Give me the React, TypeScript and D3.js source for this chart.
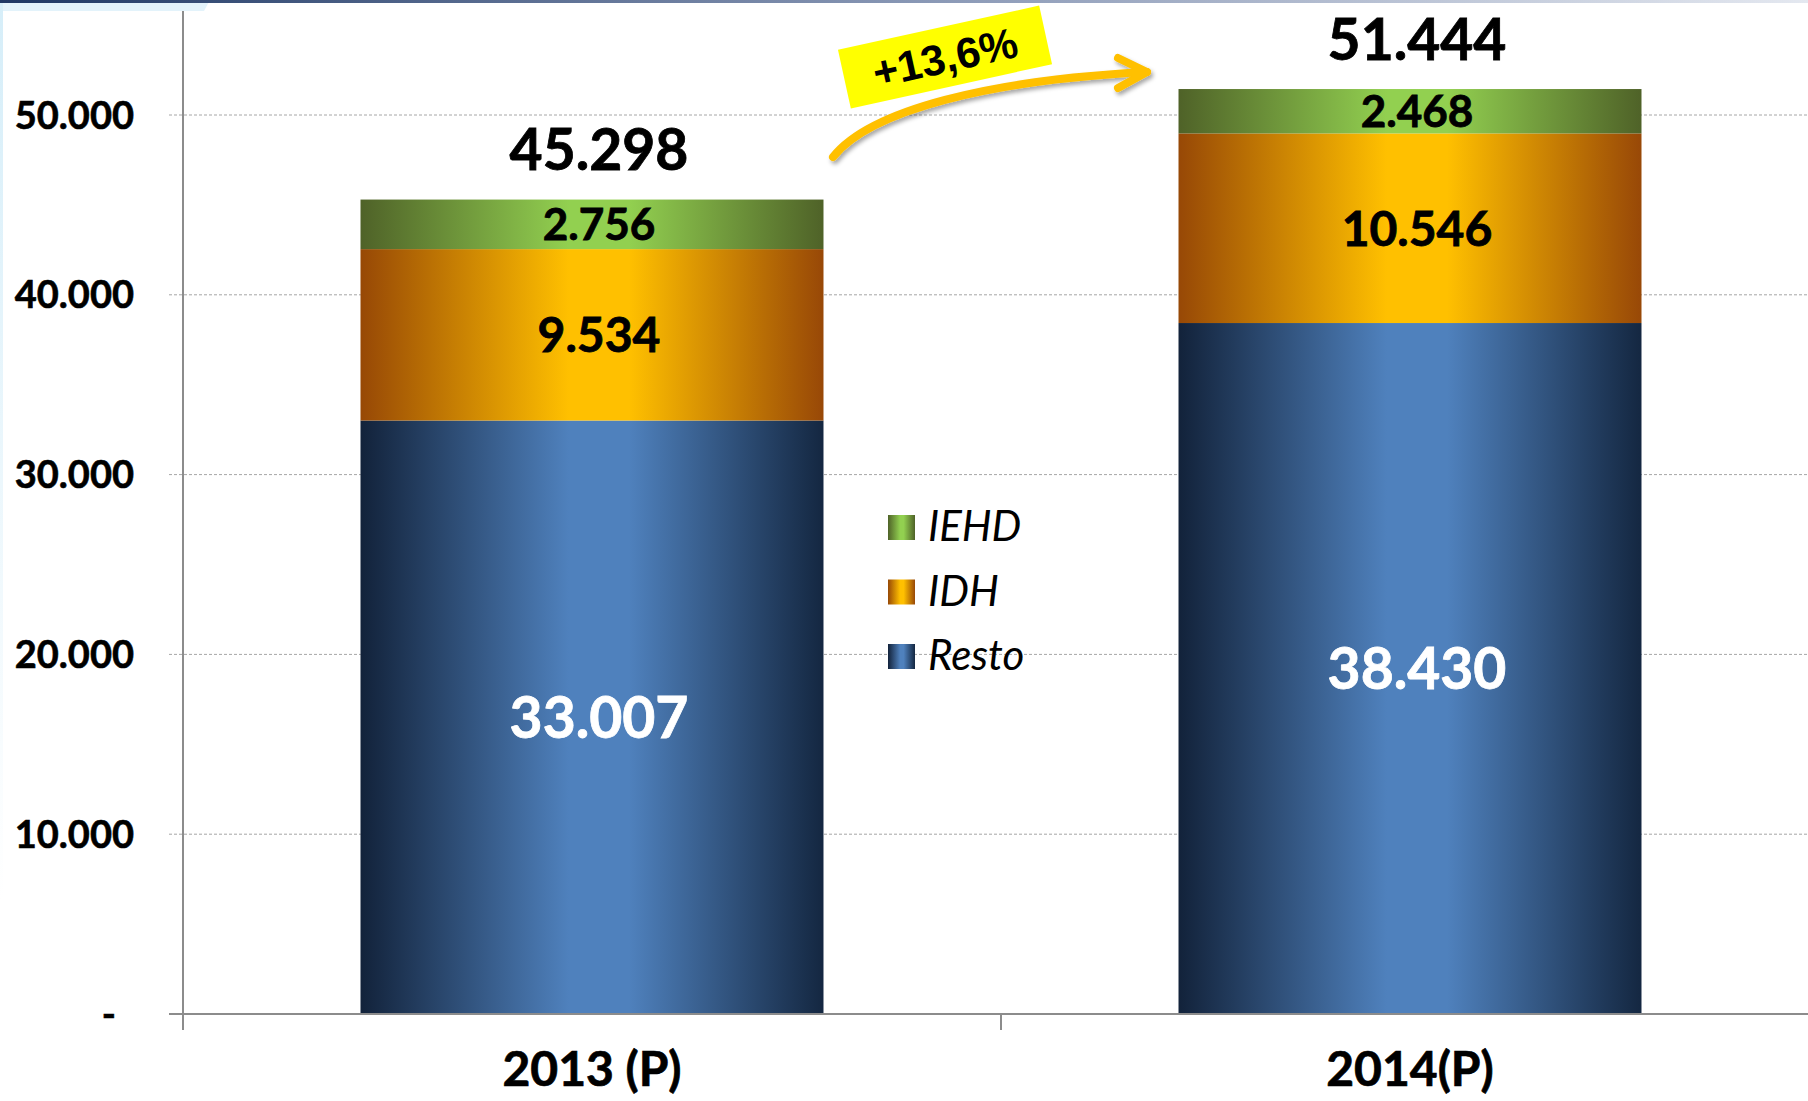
import * as d3 from 'd3';

const years = ['2013 (P)', '2014(P)'];
const resto = [33007, 38430];
const idh = [9534, 10546];
const iehd = [2756, 2468];
const totals = [45298, 51444];
const yTicks = [0, 10000, 20000, 30000, 40000, 50000];
const seriesNames = ['Resto', 'IDH', 'IEHD'];

const W = 1808;
const H = 1101;

const locale = d3.formatLocale({ decimal: ',', thousands: '.', grouping: [3], currency: ['', ''] });
const fmt = locale.format(',d');
const fmtPct = locale.format('+.1%');

const FONT = 'Lato, "Open Sans", sans-serif';

const x = d3.scaleBand<string>().domain(years).range([183, 1819]).paddingInner(0.434).paddingOuter(0.217);
const y = d3.scaleLinear().domain([0, 50000]).range([1014, 115]);
const yTop = 11;

// segment gradients: dark edges, light centre
const grads: Record<string, [string, string, string]> = {
  Resto: ['#12223a', '#4f81bd', '#142741'],
  IDH: ['#974806', '#ffc000', '#984807'],
  IEHD: ['#4f6228', '#92d050', '#4f6228'],
};

export default function App() {
  const stack = years.map((yr, i) => {
    const vals = [resto[i], idh[i], iehd[i]];
    let acc = 0;
    return seriesNames.map((name, k) => {
      const y0 = acc;
      acc += vals[k];
      return { yr, name, v: vals[k], y0, y1: acc };
    });
  });

  const labelSize: Record<string, number> = { Resto: 57, IDH: 48, IEHD: 44 };
  const labelColor: Record<string, string> = { Resto: '#ffffff', IDH: '#000000', IEHD: '#000000' };
  const labelDx = 7;

  // growth arrow between totals
  const arrowStart: [number, number] = [833, 157];
  const arrowEnd: [number, number] = [1147, 72];
  const arrowPath = d3.path();
  arrowPath.moveTo(arrowStart[0], arrowStart[1]);
  arrowPath.bezierCurveTo(870, 110, 990, 80, arrowEnd[0], arrowEnd[1]);

  const legendItems = ['IEHD', 'IDH', 'Resto'];

  return (
    <svg width={W} height={H} style={{ position: 'absolute', left: 0, top: 0, background: '#fff' }}>
      <defs>
        {Object.entries(grads).map(([k, c]) => (
          <linearGradient key={k} id={`g-${k}`} x1="0" x2="1" y1="0" y2="0">
            <stop offset="0%" stopColor={c[0]} />
            <stop offset="45%" stopColor={c[1]} />
            <stop offset="58%" stopColor={c[1]} />
            <stop offset="100%" stopColor={c[2]} />
          </linearGradient>
        ))}
        <linearGradient id="topband" x1="0" x2="1" y1="0" y2="0">
          <stop offset="0%" stopColor="#1f3864" />
          <stop offset="50%" stopColor="#8796b4" />
          <stop offset="100%" stopColor="#e4e8f0" />
        </linearGradient>
        <linearGradient id="leftband" x1="0" x2="0" y1="0" y2="1">
          <stop offset="0%" stopColor="#d6eef9" />
          <stop offset="100%" stopColor="#ffffff" />
        </linearGradient>
        <filter id="shadow" x="-20%" y="-50%" width="140%" height="200%">
          <feDropShadow dx="2" dy="3" stdDeviation="2" floodColor="#000" floodOpacity="0.35" />
        </filter>
      </defs>

      {/* slide background remnants */}
      <polygon points="0,0 210,0 204,11 0,11" fill="#e3f3fb" />
      <rect x={0} y={0} width={3} height={900} fill="url(#leftband)" />
      <rect x={0} y={0} width={W} height={3} fill="url(#topband)" />

      {/* gridlines */}
      {yTicks.filter((t) => t > 0).map((t) => (
        <line key={t} x1={169} x2={W} y1={y(t)} y2={y(t)} stroke="#a6a6a6" strokeWidth={1} strokeDasharray="3,2" />
      ))}

      {/* y axis */}
      <line x1={183} x2={183} y1={yTop} y2={1030} stroke="#8c8c8c" strokeWidth={2} />
      {yTicks.map((t) => (
        <text key={t} x={t === 0 ? 116 : 134} y={y(t)} dy="0.36em" textAnchor="end"
          fontFamily={FONT} fontWeight={700} fontSize={38} fill="#000" stroke="#000" strokeWidth={0.6}>
          {t === 0 ? '-' : fmt(t)}
        </text>
      ))}

      {/* bars */}
      {stack.map((segs) =>
        segs.map((s) => (
          <g key={s.yr + s.name}>
            <rect x={x(s.yr)} y={y(s.y1)} width={x.bandwidth()} height={y(s.y0) - y(s.y1)} fill={`url(#g-${s.name})`} />
            <text x={(x(s.yr) ?? 0) + x.bandwidth() / 2 + labelDx} y={(y(s.y0) + y(s.y1)) / 2} dy="0.36em" textAnchor="middle"
              fontFamily={FONT} fontWeight={700} fontSize={labelSize[s.name]} fill={labelColor[s.name]}
              stroke={labelColor[s.name]} strokeWidth={0.8}>
              {fmt(s.v)}
            </text>
          </g>
        ))
      )}

      {/* totals */}
      {years.map((yr, i) => (
        <text key={yr} x={(x(yr) ?? 0) + x.bandwidth() / 2 + labelDx} y={y(d3.sum([resto[i], idh[i], iehd[i]])) - 50} dy="0.36em"
          textAnchor="middle" fontFamily={FONT} fontWeight={700} fontSize={57} fill="#000" stroke="#000" strokeWidth={0.8}>
          {fmt(totals[i])}
        </text>
      ))}

      {/* x axis */}
      <line x1={169} x2={1819} y1={y(0)} y2={y(0)} stroke="#8c8c8c" strokeWidth={2} />
      {[183, ((x(years[0]) ?? 0) + x.bandwidth() + (x(years[1]) ?? 0)) / 2].map((tx, i) => (
        <line key={i} x1={tx} x2={tx} y1={y(0)} y2={1030} stroke="#8c8c8c" strokeWidth={2} />
      ))}
      {years.map((yr) => (
        <text key={yr} x={(x(yr) ?? 0) + x.bandwidth() / 2} y={1086} textAnchor="middle"
          fontFamily={FONT} fontWeight={700} fontSize={48} fill="#000" stroke="#000" strokeWidth={0.7}>
          {yr}
        </text>
      ))}

      {/* legend */}
      {legendItems.map((name, i) => (
        <g key={name} transform={`translate(888,${515 + i * 64.5})`}>
          <rect x={0} y={0} width={27} height={25} fill={`url(#g-${name})`} />
          <text x={40} y={26} fontFamily={FONT} fontStyle="italic" fontSize={42} fill="#000">{name}</text>
        </g>
      ))}

      {/* growth arrow */}
      <g filter="url(#shadow)">
        <path d={arrowPath.toString()} fill="none" stroke="#ffc000" strokeWidth={8} strokeLinecap="round" />
        <polyline points={`1118,58 ${arrowEnd[0]},${arrowEnd[1]} 1118,88`} fill="none" stroke="#ffc000"
          strokeWidth={8} strokeLinecap="round" strokeLinejoin="round" />
      </g>
      <g transform="translate(945,57) rotate(-12.4)">
        <rect x={-103} y={-30} width={206} height={60} fill="#ffff00" />
        <text x={0} y={0} dy="0.36em" textAnchor="middle" fontFamily='"Liberation Sans", Arial, sans-serif'
          fontWeight={700} fontSize={43} fill="#000">
          {fmtPct(totals[1] / totals[0] - 1)}
        </text>
      </g>
    </svg>
  );
}
